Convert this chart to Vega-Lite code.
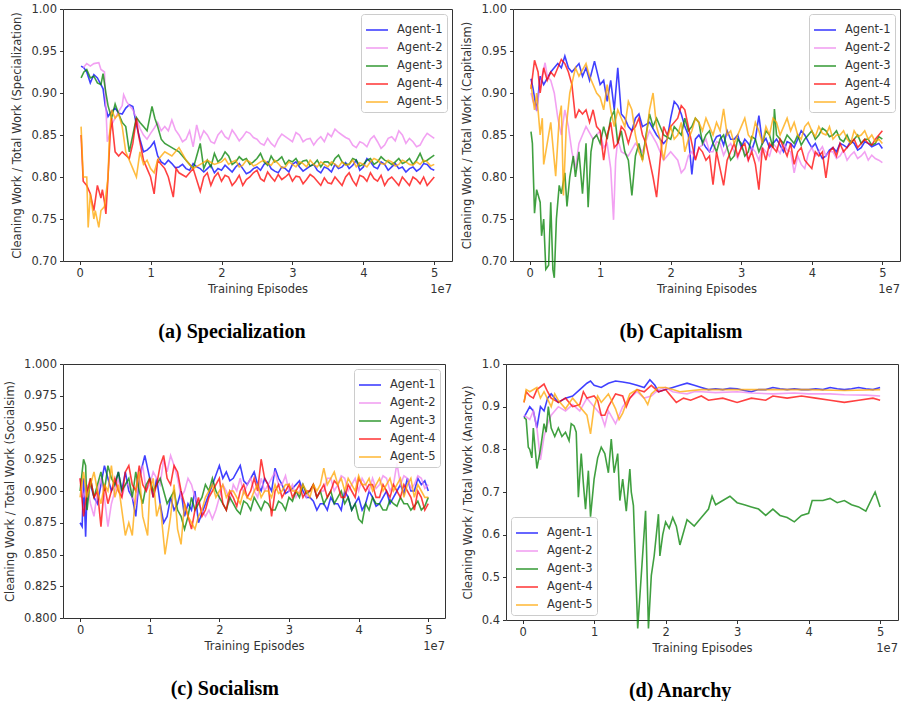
{
"$schema": "https://vega.github.io/schema/vega-lite/v6.json",
"background": "white",
"padding": {"left": 4, "top": 2, "right": 0, "bottom": 0},
"columns": 2,
"align": "none",
"spacing": {"row": 15, "column": 8},
"resolve": {"scale": {"color": "independent", "x": "independent", "y": "independent"}, "legend": {"color": "independent"}, "axis": {"x": "independent", "y": "independent"}},
"datasets": {
"a": [
{"g":1,"x":0.02,"y":0.932},{"g":1,"x":0.06,"y":0.93},{"g":1,"x":0.1,"y":0.925},{"g":1,"x":0.15,"y":0.912},{"g":1,"x":0.2,"y":0.922},{"g":1,"x":0.25,"y":0.918},{"g":1,"x":0.3,"y":0.91},{"g":1,"x":0.33,"y":0.905},{"g":1,"x":0.36,"y":0.885},{"g":1,"x":0.4,"y":0.872},{"g":1,"x":0.45,"y":0.878},{"g":1,"x":0.5,"y":0.882},{"g":1,"x":0.55,"y":0.876},{"g":1,"x":0.6,"y":0.875},{"g":1,"x":0.65,"y":0.882},{"g":1,"x":0.7,"y":0.886},{"g":1,"x":0.75,"y":0.884},{"g":1,"x":0.8,"y":0.862},{"g":1,"x":0.85,"y":0.845},{"g":1,"x":0.9,"y":0.83},{"g":1,"x":0.95,"y":0.832},{"g":1,"x":1.0,"y":0.836},{"g":1,"x":1.05,"y":0.842},{"g":1,"x":1.1,"y":0.825},{"g":1,"x":1.15,"y":0.818},{"g":1,"x":1.2,"y":0.815},{"g":1,"x":1.3,"y":0.816},{"g":1,"x":1.4,"y":0.812},{"g":1,"x":1.5,"y":0.81},{"g":1,"x":1.6,"y":0.816},{"g":1,"x":1.7,"y":0.81},{"g":1,"x":1.8,"y":0.81},{"g":1,"x":1.9,"y":0.805},{"g":1,"x":2.0,"y":0.808},{"g":1,"x":2.1,"y":0.81},{"g":1,"x":2.2,"y":0.812},{"g":1,"x":2.3,"y":0.81},{"g":1,"x":2.4,"y":0.806},{"g":1,"x":2.5,"y":0.812},{"g":1,"x":2.6,"y":0.815},{"g":1,"x":2.7,"y":0.81},{"g":1,"x":2.8,"y":0.805},{"g":1,"x":2.9,"y":0.81},{"g":1,"x":3.0,"y":0.815},{"g":1,"x":3.1,"y":0.812},{"g":1,"x":3.2,"y":0.81},{"g":1,"x":3.3,"y":0.815},{"g":1,"x":3.4,"y":0.805},{"g":1,"x":3.5,"y":0.81},{"g":1,"x":3.6,"y":0.815},{"g":1,"x":3.7,"y":0.812},{"g":1,"x":3.8,"y":0.81},{"g":1,"x":3.9,"y":0.82},{"g":1,"x":4.0,"y":0.812},{"g":1,"x":4.1,"y":0.818},{"g":1,"x":4.2,"y":0.81},{"g":1,"x":4.3,"y":0.815},{"g":1,"x":4.4,"y":0.812},{"g":1,"x":4.5,"y":0.81},{"g":1,"x":4.6,"y":0.806},{"g":1,"x":4.7,"y":0.812},{"g":1,"x":4.8,"y":0.81},{"g":1,"x":4.9,"y":0.815},{"g":1,"x":5.0,"y":0.808},
{"g":1,"x":1.25,"y":0.82},{"g":1,"x":1.35,"y":0.811},{"g":1,"x":1.45,"y":0.815},{"g":1,"x":1.55,"y":0.808},{"g":1,"x":1.65,"y":0.812},{"g":1,"x":1.75,"y":0.806},{"g":1,"x":1.85,"y":0.814},{"g":1,"x":1.95,"y":0.81},{"g":1,"x":2.05,"y":0.814},{"g":1,"x":2.15,"y":0.806},{"g":1,"x":2.25,"y":0.816},{"g":1,"x":2.35,"y":0.804},{"g":1,"x":2.45,"y":0.81},{"g":1,"x":2.55,"y":0.808},{"g":1,"x":2.65,"y":0.818},{"g":1,"x":2.75,"y":0.807},{"g":1,"x":2.85,"y":0.812},{"g":1,"x":2.95,"y":0.806},{"g":1,"x":3.05,"y":0.818},{"g":1,"x":3.15,"y":0.807},{"g":1,"x":3.25,"y":0.813},{"g":1,"x":3.35,"y":0.808},{"g":1,"x":3.45,"y":0.812},{"g":1,"x":3.55,"y":0.806},{"g":1,"x":3.65,"y":0.81},{"g":1,"x":3.75,"y":0.817},{"g":1,"x":3.85,"y":0.814},{"g":1,"x":3.95,"y":0.808},{"g":1,"x":4.05,"y":0.822},{"g":1,"x":4.15,"y":0.812},{"g":1,"x":4.25,"y":0.818},{"g":1,"x":4.35,"y":0.808},{"g":1,"x":4.45,"y":0.816},{"g":1,"x":4.55,"y":0.812},{"g":1,"x":4.65,"y":0.81},{"g":1,"x":4.75,"y":0.807},{"g":1,"x":4.85,"y":0.816},{"g":1,"x":4.95,"y":0.81},
{"g":2,"x":0.05,"y":0.93},{"g":2,"x":0.1,"y":0.935},{"g":2,"x":0.15,"y":0.932},{"g":2,"x":0.2,"y":0.935},{"g":2,"x":0.27,"y":0.936},{"g":2,"x":0.3,"y":0.928},{"g":2,"x":0.35,"y":0.925},{"g":2,"x":0.39,"y":0.842},{"g":2,"x":0.42,"y":0.85},{"g":2,"x":0.45,"y":0.862},{"g":2,"x":0.5,"y":0.87},{"g":2,"x":0.55,"y":0.878},{"g":2,"x":0.6,"y":0.885},{"g":2,"x":0.62,"y":0.898},{"g":2,"x":0.66,"y":0.89},{"g":2,"x":0.7,"y":0.885},{"g":2,"x":0.75,"y":0.88},{"g":2,"x":0.8,"y":0.87},{"g":2,"x":0.85,"y":0.858},{"g":2,"x":0.9,"y":0.85},{"g":2,"x":0.95,"y":0.845},{"g":2,"x":1.0,"y":0.852},{"g":2,"x":1.05,"y":0.858},{"g":2,"x":1.1,"y":0.865},{"g":2,"x":1.15,"y":0.855},{"g":2,"x":1.2,"y":0.86},{"g":2,"x":1.25,"y":0.855},{"g":2,"x":1.3,"y":0.868},{"g":2,"x":1.35,"y":0.856},{"g":2,"x":1.4,"y":0.85},{"g":2,"x":1.45,"y":0.842},{"g":2,"x":1.5,"y":0.845},{"g":2,"x":1.55,"y":0.855},{"g":2,"x":1.6,"y":0.836},{"g":2,"x":1.65,"y":0.862},{"g":2,"x":1.7,"y":0.845},{"g":2,"x":1.8,"y":0.85},{"g":2,"x":1.9,"y":0.84},{"g":2,"x":2.0,"y":0.855},{"g":2,"x":2.1,"y":0.845},{"g":2,"x":2.2,"y":0.85},{"g":2,"x":2.3,"y":0.848},{"g":2,"x":2.4,"y":0.852},{"g":2,"x":2.5,"y":0.845},{"g":2,"x":2.6,"y":0.838},{"g":2,"x":2.7,"y":0.84},{"g":2,"x":2.8,"y":0.845},{"g":2,"x":2.9,"y":0.848},{"g":2,"x":3.0,"y":0.842},{"g":2,"x":3.1,"y":0.85},{"g":2,"x":3.2,"y":0.845},{"g":2,"x":3.3,"y":0.838},{"g":2,"x":3.4,"y":0.848},{"g":2,"x":3.5,"y":0.852},{"g":2,"x":3.6,"y":0.857},{"g":2,"x":3.7,"y":0.85},{"g":2,"x":3.8,"y":0.845},{"g":2,"x":3.9,"y":0.835},{"g":2,"x":4.0,"y":0.84},{"g":2,"x":4.1,"y":0.845},{"g":2,"x":4.2,"y":0.842},{"g":2,"x":4.3,"y":0.838},{"g":2,"x":4.4,"y":0.848},{"g":2,"x":4.5,"y":0.855},{"g":2,"x":4.6,"y":0.84},{"g":2,"x":4.7,"y":0.842},{"g":2,"x":4.8,"y":0.838},{"g":2,"x":4.9,"y":0.852},{"g":2,"x":5.0,"y":0.846},
{"g":2,"x":1.75,"y":0.855},{"g":2,"x":1.85,"y":0.842},{"g":2,"x":1.95,"y":0.85},{"g":2,"x":2.05,"y":0.848},{"g":2,"x":2.15,"y":0.856},{"g":2,"x":2.25,"y":0.843},{"g":2,"x":2.35,"y":0.854},{"g":2,"x":2.45,"y":0.847},{"g":2,"x":2.55,"y":0.84},{"g":2,"x":2.65,"y":0.846},{"g":2,"x":2.75,"y":0.836},{"g":2,"x":2.85,"y":0.851},{"g":2,"x":2.95,"y":0.845},{"g":2,"x":3.05,"y":0.853},{"g":2,"x":3.15,"y":0.842},{"g":2,"x":3.25,"y":0.846},{"g":2,"x":3.35,"y":0.844},{"g":2,"x":3.45,"y":0.842},{"g":2,"x":3.55,"y":0.848},{"g":2,"x":3.65,"y":0.853},{"g":2,"x":3.75,"y":0.847},{"g":2,"x":3.85,"y":0.838},{"g":2,"x":3.95,"y":0.842},{"g":2,"x":4.05,"y":0.836},{"g":2,"x":4.15,"y":0.849},{"g":2,"x":4.25,"y":0.834},{"g":2,"x":4.35,"y":0.846},{"g":2,"x":4.45,"y":0.843},{"g":2,"x":4.55,"y":0.85},{"g":2,"x":4.65,"y":0.846},{"g":2,"x":4.75,"y":0.836},{"g":2,"x":4.85,"y":0.846},{"g":2,"x":4.95,"y":0.849},
{"g":3,"x":0.02,"y":0.918},{"g":3,"x":0.06,"y":0.925},{"g":3,"x":0.1,"y":0.928},{"g":3,"x":0.15,"y":0.918},{"g":3,"x":0.2,"y":0.92},{"g":3,"x":0.25,"y":0.912},{"g":3,"x":0.3,"y":0.91},{"g":3,"x":0.33,"y":0.923},{"g":3,"x":0.37,"y":0.9},{"g":3,"x":0.4,"y":0.885},{"g":3,"x":0.45,"y":0.87},{"g":3,"x":0.5,"y":0.887},{"g":3,"x":0.55,"y":0.875},{"g":3,"x":0.6,"y":0.865},{"g":3,"x":0.65,"y":0.86},{"g":3,"x":0.7,"y":0.83},{"g":3,"x":0.75,"y":0.85},{"g":3,"x":0.8,"y":0.871},{"g":3,"x":0.85,"y":0.865},{"g":3,"x":0.9,"y":0.86},{"g":3,"x":0.95,"y":0.855},{"g":3,"x":1.02,"y":0.884},{"g":3,"x":1.06,"y":0.87},{"g":3,"x":1.1,"y":0.86},{"g":3,"x":1.15,"y":0.845},{"g":3,"x":1.2,"y":0.84},{"g":3,"x":1.3,"y":0.835},{"g":3,"x":1.4,"y":0.83},{"g":3,"x":1.5,"y":0.82},{"g":3,"x":1.6,"y":0.81},{"g":3,"x":1.65,"y":0.825},{"g":3,"x":1.7,"y":0.84},{"g":3,"x":1.75,"y":0.81},{"g":3,"x":1.8,"y":0.82},{"g":3,"x":1.9,"y":0.828},{"g":3,"x":2.0,"y":0.822},{"g":3,"x":2.1,"y":0.825},{"g":3,"x":2.2,"y":0.818},{"g":3,"x":2.3,"y":0.82},{"g":3,"x":2.4,"y":0.815},{"g":3,"x":2.5,"y":0.822},{"g":3,"x":2.6,"y":0.818},{"g":3,"x":2.7,"y":0.825},{"g":3,"x":2.8,"y":0.82},{"g":3,"x":2.9,"y":0.815},{"g":3,"x":3.0,"y":0.818},{"g":3,"x":3.1,"y":0.815},{"g":3,"x":3.2,"y":0.82},{"g":3,"x":3.3,"y":0.815},{"g":3,"x":3.4,"y":0.812},{"g":3,"x":3.5,"y":0.818},{"g":3,"x":3.6,"y":0.822},{"g":3,"x":3.7,"y":0.818},{"g":3,"x":3.8,"y":0.815},{"g":3,"x":3.9,"y":0.82},{"g":3,"x":4.0,"y":0.815},{"g":3,"x":4.1,"y":0.822},{"g":3,"x":4.2,"y":0.818},{"g":3,"x":4.3,"y":0.82},{"g":3,"x":4.4,"y":0.815},{"g":3,"x":4.5,"y":0.822},{"g":3,"x":4.6,"y":0.818},{"g":3,"x":4.7,"y":0.815},{"g":3,"x":4.8,"y":0.828},{"g":3,"x":4.9,"y":0.82},{"g":3,"x":5.0,"y":0.826},
{"g":3,"x":1.85,"y":0.812},{"g":3,"x":1.95,"y":0.818},{"g":3,"x":2.05,"y":0.83},{"g":3,"x":2.15,"y":0.815},{"g":3,"x":2.25,"y":0.824},{"g":3,"x":2.35,"y":0.822},{"g":3,"x":2.45,"y":0.818},{"g":3,"x":2.55,"y":0.828},{"g":3,"x":2.65,"y":0.814},{"g":3,"x":2.75,"y":0.818},{"g":3,"x":2.85,"y":0.824},{"g":3,"x":2.95,"y":0.82},{"g":3,"x":3.05,"y":0.822},{"g":3,"x":3.15,"y":0.819},{"g":3,"x":3.25,"y":0.813},{"g":3,"x":3.35,"y":0.82},{"g":3,"x":3.45,"y":0.818},{"g":3,"x":3.55,"y":0.814},{"g":3,"x":3.65,"y":0.826},{"g":3,"x":3.75,"y":0.815},{"g":3,"x":3.85,"y":0.822},{"g":3,"x":3.95,"y":0.813},{"g":3,"x":4.05,"y":0.82},{"g":3,"x":4.15,"y":0.815},{"g":3,"x":4.25,"y":0.824},{"g":3,"x":4.35,"y":0.818},{"g":3,"x":4.45,"y":0.818},{"g":3,"x":4.55,"y":0.816},{"g":3,"x":4.65,"y":0.822},{"g":3,"x":4.75,"y":0.82},{"g":3,"x":4.85,"y":0.818},{"g":3,"x":4.95,"y":0.823},
{"g":4,"x":0.02,"y":0.85},{"g":4,"x":0.05,"y":0.795},{"g":4,"x":0.1,"y":0.79},{"g":4,"x":0.15,"y":0.78},{"g":4,"x":0.2,"y":0.76},{"g":4,"x":0.25,"y":0.79},{"g":4,"x":0.3,"y":0.775},{"g":4,"x":0.32,"y":0.785},{"g":4,"x":0.35,"y":0.77},{"g":4,"x":0.37,"y":0.756},{"g":4,"x":0.4,"y":0.8},{"g":4,"x":0.43,"y":0.85},{"g":4,"x":0.45,"y":0.87},{"g":4,"x":0.5,"y":0.83},{"g":4,"x":0.55,"y":0.825},{"g":4,"x":0.6,"y":0.83},{"g":4,"x":0.7,"y":0.822},{"g":4,"x":0.75,"y":0.84},{"g":4,"x":0.8,"y":0.87},{"g":4,"x":0.83,"y":0.85},{"g":4,"x":0.9,"y":0.82},{"g":4,"x":0.95,"y":0.81},{"g":4,"x":1.0,"y":0.8},{"g":4,"x":1.05,"y":0.78},{"g":4,"x":1.1,"y":0.82},{"g":4,"x":1.2,"y":0.81},{"g":4,"x":1.25,"y":0.8},{"g":4,"x":1.32,"y":0.776},{"g":4,"x":1.36,"y":0.81},{"g":4,"x":1.4,"y":0.805},{"g":4,"x":1.5,"y":0.8},{"g":4,"x":1.6,"y":0.81},{"g":4,"x":1.7,"y":0.783},{"g":4,"x":1.75,"y":0.8},{"g":4,"x":1.8,"y":0.805},{"g":4,"x":1.9,"y":0.8},{"g":4,"x":2.0,"y":0.795},{"g":4,"x":2.1,"y":0.8},{"g":4,"x":2.2,"y":0.795},{"g":4,"x":2.3,"y":0.79},{"g":4,"x":2.4,"y":0.8},{"g":4,"x":2.5,"y":0.808},{"g":4,"x":2.6,"y":0.795},{"g":4,"x":2.7,"y":0.8},{"g":4,"x":2.8,"y":0.803},{"g":4,"x":2.9,"y":0.8},{"g":4,"x":3.0,"y":0.795},{"g":4,"x":3.1,"y":0.8},{"g":4,"x":3.2,"y":0.797},{"g":4,"x":3.3,"y":0.8},{"g":4,"x":3.4,"y":0.79},{"g":4,"x":3.5,"y":0.793},{"g":4,"x":3.6,"y":0.8},{"g":4,"x":3.7,"y":0.79},{"g":4,"x":3.8,"y":0.805},{"g":4,"x":3.9,"y":0.79},{"g":4,"x":4.0,"y":0.8},{"g":4,"x":4.1,"y":0.805},{"g":4,"x":4.2,"y":0.795},{"g":4,"x":4.3,"y":0.79},{"g":4,"x":4.4,"y":0.8},{"g":4,"x":4.5,"y":0.79},{"g":4,"x":4.6,"y":0.795},{"g":4,"x":4.7,"y":0.8},{"g":4,"x":4.8,"y":0.792},{"g":4,"x":4.9,"y":0.79},{"g":4,"x":5.0,"y":0.8},
{"g":4,"x":1.85,"y":0.79},{"g":4,"x":1.95,"y":0.805},{"g":4,"x":2.05,"y":0.802},{"g":4,"x":2.15,"y":0.79},{"g":4,"x":2.25,"y":0.802},{"g":4,"x":2.35,"y":0.797},{"g":4,"x":2.45,"y":0.805},{"g":4,"x":2.55,"y":0.798},{"g":4,"x":2.65,"y":0.806},{"g":4,"x":2.75,"y":0.795},{"g":4,"x":2.85,"y":0.797},{"g":4,"x":2.95,"y":0.804},{"g":4,"x":3.05,"y":0.801},{"g":4,"x":3.15,"y":0.792},{"g":4,"x":3.25,"y":0.803},{"g":4,"x":3.35,"y":0.795},{"g":4,"x":3.45,"y":0.799},{"g":4,"x":3.55,"y":0.792},{"g":4,"x":3.65,"y":0.795},{"g":4,"x":3.75,"y":0.8},{"g":4,"x":3.85,"y":0.796},{"g":4,"x":3.95,"y":0.802},{"g":4,"x":4.05,"y":0.795},{"g":4,"x":4.15,"y":0.798},{"g":4,"x":4.25,"y":0.802},{"g":4,"x":4.35,"y":0.797},{"g":4,"x":4.45,"y":0.795},{"g":4,"x":4.55,"y":0.8},{"g":4,"x":4.65,"y":0.79},{"g":4,"x":4.75,"y":0.797},{"g":4,"x":4.85,"y":0.8},{"g":4,"x":4.95,"y":0.795},
{"g":5,"x":0.02,"y":0.86},{"g":5,"x":0.05,"y":0.8},{"g":5,"x":0.1,"y":0.8},{"g":5,"x":0.12,"y":0.74},{"g":5,"x":0.15,"y":0.78},{"g":5,"x":0.2,"y":0.75},{"g":5,"x":0.22,"y":0.76},{"g":5,"x":0.27,"y":0.74},{"g":5,"x":0.3,"y":0.76},{"g":5,"x":0.35,"y":0.765},{"g":5,"x":0.4,"y":0.8},{"g":5,"x":0.42,"y":0.85},{"g":5,"x":0.45,"y":0.88},{"g":5,"x":0.5,"y":0.87},{"g":5,"x":0.55,"y":0.875},{"g":5,"x":0.6,"y":0.86},{"g":5,"x":0.65,"y":0.83},{"g":5,"x":0.7,"y":0.82},{"g":5,"x":0.75,"y":0.81},{"g":5,"x":0.8,"y":0.8},{"g":5,"x":0.85,"y":0.83},{"g":5,"x":0.9,"y":0.815},{"g":5,"x":0.95,"y":0.82},{"g":5,"x":1.0,"y":0.81},{"g":5,"x":1.05,"y":0.805},{"g":5,"x":1.1,"y":0.82},{"g":5,"x":1.2,"y":0.83},{"g":5,"x":1.3,"y":0.825},{"g":5,"x":1.4,"y":0.835},{"g":5,"x":1.5,"y":0.82},{"g":5,"x":1.6,"y":0.81},{"g":5,"x":1.7,"y":0.815},{"g":5,"x":1.8,"y":0.82},{"g":5,"x":1.9,"y":0.815},{"g":5,"x":2.0,"y":0.818},{"g":5,"x":2.1,"y":0.815},{"g":5,"x":2.2,"y":0.82},{"g":5,"x":2.3,"y":0.814},{"g":5,"x":2.4,"y":0.818},{"g":5,"x":2.5,"y":0.815},{"g":5,"x":2.6,"y":0.82},{"g":5,"x":2.7,"y":0.814},{"g":5,"x":2.8,"y":0.816},{"g":5,"x":2.9,"y":0.812},{"g":5,"x":3.0,"y":0.815},{"g":5,"x":3.1,"y":0.818},{"g":5,"x":3.2,"y":0.812},{"g":5,"x":3.3,"y":0.815},{"g":5,"x":3.4,"y":0.818},{"g":5,"x":3.5,"y":0.812},{"g":5,"x":3.6,"y":0.815},{"g":5,"x":3.7,"y":0.818},{"g":5,"x":3.8,"y":0.815},{"g":5,"x":3.9,"y":0.812},{"g":5,"x":4.0,"y":0.815},{"g":5,"x":4.1,"y":0.818},{"g":5,"x":4.2,"y":0.82},{"g":5,"x":4.3,"y":0.815},{"g":5,"x":4.4,"y":0.818},{"g":5,"x":4.5,"y":0.815},{"g":5,"x":4.6,"y":0.818},{"g":5,"x":4.7,"y":0.814},{"g":5,"x":4.8,"y":0.815},{"g":5,"x":4.9,"y":0.818},{"g":5,"x":5.0,"y":0.815},
{"g":5,"x":2.05,"y":0.822},{"g":5,"x":2.15,"y":0.818},{"g":5,"x":2.25,"y":0.812},{"g":5,"x":2.35,"y":0.82},{"g":5,"x":2.45,"y":0.813},{"g":5,"x":2.55,"y":0.818},{"g":5,"x":2.65,"y":0.816},{"g":5,"x":2.75,"y":0.82},{"g":5,"x":2.85,"y":0.811},{"g":5,"x":2.95,"y":0.818},{"g":5,"x":3.05,"y":0.812},{"g":5,"x":3.15,"y":0.816},{"g":5,"x":3.25,"y":0.82},{"g":5,"x":3.35,"y":0.812},{"g":5,"x":3.45,"y":0.815},{"g":5,"x":3.55,"y":0.818},{"g":5,"x":3.65,"y":0.812},{"g":5,"x":3.75,"y":0.814},{"g":5,"x":3.85,"y":0.82},{"g":5,"x":3.95,"y":0.817},{"g":5,"x":4.05,"y":0.812},{"g":5,"x":4.15,"y":0.822},{"g":5,"x":4.25,"y":0.816},{"g":5,"x":4.35,"y":0.82},{"g":5,"x":4.45,"y":0.813},{"g":5,"x":4.55,"y":0.82},{"g":5,"x":4.65,"y":0.815},{"g":5,"x":4.75,"y":0.818},{"g":5,"x":4.85,"y":0.82},{"g":5,"x":4.95,"y":0.813}
],
"b": [
{"g":1,"x":0.02,"y":0.917},{"g":1,"x":0.05,"y":0.905},{"g":1,"x":0.1,"y":0.879},{"g":1,"x":0.15,"y":0.92},{"g":1,"x":0.2,"y":0.91},{"g":1,"x":0.3,"y":0.925},{"g":1,"x":0.4,"y":0.935},{"g":1,"x":0.45,"y":0.93},{"g":1,"x":0.5,"y":0.944},{"g":1,"x":0.55,"y":0.93},{"g":1,"x":0.6,"y":0.925},{"g":1,"x":0.7,"y":0.935},{"g":1,"x":0.75,"y":0.92},{"g":1,"x":0.8,"y":0.93},{"g":1,"x":0.85,"y":0.915},{"g":1,"x":0.92,"y":0.938},{"g":1,"x":1.0,"y":0.91},{"g":1,"x":1.05,"y":0.915},{"g":1,"x":1.1,"y":0.89},{"g":1,"x":1.15,"y":0.915},{"g":1,"x":1.2,"y":0.88},{"g":1,"x":1.25,"y":0.93},{"g":1,"x":1.3,"y":0.875},{"g":1,"x":1.35,"y":0.87},{"g":1,"x":1.4,"y":0.86},{"g":1,"x":1.45,"y":0.855},{"g":1,"x":1.5,"y":0.87},{"g":1,"x":1.55,"y":0.875},{"g":1,"x":1.6,"y":0.86},{"g":1,"x":1.7,"y":0.865},{"g":1,"x":1.8,"y":0.85},{"g":1,"x":1.9,"y":0.84},{"g":1,"x":1.95,"y":0.845},{"g":1,"x":2.0,"y":0.87},{"g":1,"x":2.05,"y":0.89},{"g":1,"x":2.1,"y":0.885},{"g":1,"x":2.15,"y":0.875},{"g":1,"x":2.2,"y":0.86},{"g":1,"x":2.25,"y":0.85},{"g":1,"x":2.3,"y":0.803},{"g":1,"x":2.35,"y":0.845},{"g":1,"x":2.4,"y":0.85},{"g":1,"x":2.5,"y":0.835},{"g":1,"x":2.6,"y":0.84},{"g":1,"x":2.7,"y":0.85},{"g":1,"x":2.8,"y":0.855},{"g":1,"x":2.9,"y":0.845},{"g":1,"x":3.0,"y":0.835},{"g":1,"x":3.1,"y":0.84},{"g":1,"x":3.2,"y":0.845},{"g":1,"x":3.25,"y":0.873},{"g":1,"x":3.3,"y":0.84},{"g":1,"x":3.4,"y":0.835},{"g":1,"x":3.5,"y":0.845},{"g":1,"x":3.6,"y":0.83},{"g":1,"x":3.7,"y":0.84},{"g":1,"x":3.8,"y":0.845},{"g":1,"x":3.9,"y":0.85},{"g":1,"x":4.0,"y":0.835},{"g":1,"x":4.1,"y":0.83},{"g":1,"x":4.2,"y":0.825},{"g":1,"x":4.3,"y":0.835},{"g":1,"x":4.4,"y":0.84},{"g":1,"x":4.5,"y":0.835},{"g":1,"x":4.6,"y":0.84},{"g":1,"x":4.7,"y":0.835},{"g":1,"x":4.8,"y":0.84},{"g":1,"x":4.9,"y":0.838},{"g":1,"x":5.0,"y":0.834},
{"g":1,"x":2.45,"y":0.842},{"g":1,"x":2.55,"y":0.83},{"g":1,"x":2.65,"y":0.848},{"g":1,"x":2.75,"y":0.838},{"g":1,"x":2.85,"y":0.845},{"g":1,"x":2.95,"y":0.85},{"g":1,"x":3.05,"y":0.845},{"g":1,"x":3.15,"y":0.832},{"g":1,"x":3.35,"y":0.846},{"g":1,"x":3.45,"y":0.84},{"g":1,"x":3.55,"y":0.838},{"g":1,"x":3.65,"y":0.842},{"g":1,"x":3.75,"y":0.835},{"g":1,"x":3.85,"y":0.855},{"g":1,"x":3.95,"y":0.842},{"g":1,"x":4.05,"y":0.84},{"g":1,"x":4.15,"y":0.822},{"g":1,"x":4.25,"y":0.832},{"g":1,"x":4.35,"y":0.83},{"g":1,"x":4.45,"y":0.838},{"g":1,"x":4.55,"y":0.843},{"g":1,"x":4.65,"y":0.832},{"g":1,"x":4.75,"y":0.842},{"g":1,"x":4.85,"y":0.836},{"g":1,"x":4.95,"y":0.84},
{"g":2,"x":0.02,"y":0.9},{"g":2,"x":0.05,"y":0.89},{"g":2,"x":0.1,"y":0.88},{"g":2,"x":0.15,"y":0.91},{"g":2,"x":0.22,"y":0.936},{"g":2,"x":0.25,"y":0.92},{"g":2,"x":0.3,"y":0.915},{"g":2,"x":0.35,"y":0.9},{"g":2,"x":0.4,"y":0.87},{"g":2,"x":0.45,"y":0.85},{"g":2,"x":0.5,"y":0.88},{"g":2,"x":0.55,"y":0.86},{"g":2,"x":0.6,"y":0.83},{"g":2,"x":0.65,"y":0.81},{"g":2,"x":0.7,"y":0.84},{"g":2,"x":0.75,"y":0.85},{"g":2,"x":0.8,"y":0.86},{"g":2,"x":0.9,"y":0.845},{"g":2,"x":1.0,"y":0.855},{"g":2,"x":1.05,"y":0.835},{"g":2,"x":1.1,"y":0.84},{"g":2,"x":1.15,"y":0.81},{"g":2,"x":1.19,"y":0.749},{"g":2,"x":1.22,"y":0.82},{"g":2,"x":1.25,"y":0.845},{"g":2,"x":1.3,"y":0.83},{"g":2,"x":1.4,"y":0.825},{"g":2,"x":1.5,"y":0.84},{"g":2,"x":1.6,"y":0.83},{"g":2,"x":1.7,"y":0.855},{"g":2,"x":1.8,"y":0.84},{"g":2,"x":1.9,"y":0.82},{"g":2,"x":2.0,"y":0.83},{"g":2,"x":2.1,"y":0.82},{"g":2,"x":2.15,"y":0.805},{"g":2,"x":2.2,"y":0.81},{"g":2,"x":2.3,"y":0.83},{"g":2,"x":2.4,"y":0.835},{"g":2,"x":2.5,"y":0.845},{"g":2,"x":2.6,"y":0.83},{"g":2,"x":2.7,"y":0.84},{"g":2,"x":2.8,"y":0.835},{"g":2,"x":2.9,"y":0.83},{"g":2,"x":3.0,"y":0.835},{"g":2,"x":3.1,"y":0.82},{"g":2,"x":3.2,"y":0.83},{"g":2,"x":3.3,"y":0.835},{"g":2,"x":3.4,"y":0.825},{"g":2,"x":3.5,"y":0.835},{"g":2,"x":3.6,"y":0.84},{"g":2,"x":3.7,"y":0.83},{"g":2,"x":3.75,"y":0.805},{"g":2,"x":3.8,"y":0.825},{"g":2,"x":3.9,"y":0.81},{"g":2,"x":4.0,"y":0.835},{"g":2,"x":4.1,"y":0.83},{"g":2,"x":4.2,"y":0.825},{"g":2,"x":4.3,"y":0.83},{"g":2,"x":4.4,"y":0.825},{"g":2,"x":4.5,"y":0.82},{"g":2,"x":4.6,"y":0.83},{"g":2,"x":4.7,"y":0.825},{"g":2,"x":4.8,"y":0.82},{"g":2,"x":4.9,"y":0.822},{"g":2,"x":5.0,"y":0.817},
{"g":2,"x":2.25,"y":0.825},{"g":2,"x":2.35,"y":0.822},{"g":2,"x":2.45,"y":0.838},{"g":2,"x":2.55,"y":0.83},{"g":2,"x":2.65,"y":0.842},{"g":2,"x":2.75,"y":0.826},{"g":2,"x":2.85,"y":0.84},{"g":2,"x":2.95,"y":0.822},{"g":2,"x":3.05,"y":0.83},{"g":2,"x":3.15,"y":0.835},{"g":2,"x":3.25,"y":0.82},{"g":2,"x":3.35,"y":0.83},{"g":2,"x":3.45,"y":0.84},{"g":2,"x":3.55,"y":0.828},{"g":2,"x":3.65,"y":0.832},{"g":2,"x":3.85,"y":0.815},{"g":2,"x":3.95,"y":0.828},{"g":2,"x":4.05,"y":0.825},{"g":2,"x":4.15,"y":0.836},{"g":2,"x":4.25,"y":0.83},{"g":2,"x":4.35,"y":0.822},{"g":2,"x":4.45,"y":0.832},{"g":2,"x":4.55,"y":0.826},{"g":2,"x":4.65,"y":0.822},{"g":2,"x":4.75,"y":0.83},{"g":2,"x":4.85,"y":0.826},{"g":2,"x":4.95,"y":0.82},
{"g":3,"x":0.02,"y":0.854},{"g":3,"x":0.04,"y":0.84},{"g":3,"x":0.07,"y":0.757},{"g":3,"x":0.1,"y":0.785},{"g":3,"x":0.15,"y":0.77},{"g":3,"x":0.17,"y":0.73},{"g":3,"x":0.2,"y":0.75},{"g":3,"x":0.23,"y":0.69},{"g":3,"x":0.27,"y":0.695},{"g":3,"x":0.3,"y":0.77},{"g":3,"x":0.33,"y":0.69},{"g":3,"x":0.35,"y":0.68},{"g":3,"x":0.38,"y":0.75},{"g":3,"x":0.42,"y":0.79},{"g":3,"x":0.45,"y":0.78},{"g":3,"x":0.5,"y":0.805},{"g":3,"x":0.53,"y":0.765},{"g":3,"x":0.57,"y":0.8},{"g":3,"x":0.6,"y":0.815},{"g":3,"x":0.62,"y":0.825},{"g":3,"x":0.65,"y":0.8},{"g":3,"x":0.7,"y":0.83},{"g":3,"x":0.75,"y":0.78},{"g":3,"x":0.8,"y":0.84},{"g":3,"x":0.83,"y":0.764},{"g":3,"x":0.87,"y":0.83},{"g":3,"x":0.9,"y":0.845},{"g":3,"x":0.95,"y":0.85},{"g":3,"x":1.0,"y":0.84},{"g":3,"x":1.05,"y":0.86},{"g":3,"x":1.1,"y":0.845},{"g":3,"x":1.15,"y":0.87},{"g":3,"x":1.2,"y":0.879},{"g":3,"x":1.25,"y":0.84},{"g":3,"x":1.3,"y":0.855},{"g":3,"x":1.35,"y":0.83},{"g":3,"x":1.4,"y":0.82},{"g":3,"x":1.45,"y":0.778},{"g":3,"x":1.5,"y":0.825},{"g":3,"x":1.55,"y":0.84},{"g":3,"x":1.6,"y":0.82},{"g":3,"x":1.65,"y":0.85},{"g":3,"x":1.7,"y":0.875},{"g":3,"x":1.75,"y":0.86},{"g":3,"x":1.8,"y":0.87},{"g":3,"x":1.9,"y":0.85},{"g":3,"x":2.0,"y":0.845},{"g":3,"x":2.1,"y":0.855},{"g":3,"x":2.2,"y":0.87},{"g":3,"x":2.3,"y":0.86},{"g":3,"x":2.4,"y":0.865},{"g":3,"x":2.5,"y":0.85},{"g":3,"x":2.6,"y":0.84},{"g":3,"x":2.7,"y":0.845},{"g":3,"x":2.8,"y":0.835},{"g":3,"x":2.9,"y":0.825},{"g":3,"x":3.0,"y":0.84},{"g":3,"x":3.1,"y":0.83},{"g":3,"x":3.2,"y":0.845},{"g":3,"x":3.3,"y":0.84},{"g":3,"x":3.4,"y":0.85},{"g":3,"x":3.47,"y":0.881},{"g":3,"x":3.5,"y":0.85},{"g":3,"x":3.6,"y":0.84},{"g":3,"x":3.7,"y":0.845},{"g":3,"x":3.8,"y":0.85},{"g":3,"x":3.9,"y":0.845},{"g":3,"x":4.0,"y":0.855},{"g":3,"x":4.1,"y":0.85},{"g":3,"x":4.2,"y":0.855},{"g":3,"x":4.3,"y":0.85},{"g":3,"x":4.4,"y":0.845},{"g":3,"x":4.5,"y":0.85},{"g":3,"x":4.6,"y":0.845},{"g":3,"x":4.7,"y":0.84},{"g":3,"x":4.8,"y":0.845},{"g":3,"x":4.9,"y":0.84},{"g":3,"x":5.0,"y":0.845},
{"g":3,"x":2.05,"y":0.86},{"g":3,"x":2.15,"y":0.85},{"g":3,"x":2.25,"y":0.855},{"g":3,"x":2.35,"y":0.87},{"g":3,"x":2.45,"y":0.84},{"g":3,"x":2.55,"y":0.855},{"g":3,"x":2.65,"y":0.83},{"g":3,"x":2.75,"y":0.85},{"g":3,"x":2.85,"y":0.82},{"g":3,"x":2.95,"y":0.845},{"g":3,"x":3.05,"y":0.825},{"g":3,"x":3.15,"y":0.848},{"g":3,"x":3.25,"y":0.83},{"g":3,"x":3.35,"y":0.855},{"g":3,"x":3.45,"y":0.835},{"g":3,"x":3.55,"y":0.845},{"g":3,"x":3.65,"y":0.85},{"g":3,"x":3.75,"y":0.84},{"g":3,"x":3.85,"y":0.838},{"g":3,"x":3.95,"y":0.85},{"g":3,"x":4.05,"y":0.845},{"g":3,"x":4.15,"y":0.858},{"g":3,"x":4.25,"y":0.848},{"g":3,"x":4.35,"y":0.855},{"g":3,"x":4.45,"y":0.842},{"g":3,"x":4.55,"y":0.84},{"g":3,"x":4.65,"y":0.85},{"g":3,"x":4.75,"y":0.845},{"g":3,"x":4.85,"y":0.838},{"g":3,"x":4.95,"y":0.848},
{"g":4,"x":0.02,"y":0.905},{"g":4,"x":0.07,"y":0.939},{"g":4,"x":0.12,"y":0.925},{"g":4,"x":0.15,"y":0.9},{"g":4,"x":0.2,"y":0.93},{"g":4,"x":0.25,"y":0.915},{"g":4,"x":0.3,"y":0.925},{"g":4,"x":0.35,"y":0.92},{"g":4,"x":0.4,"y":0.93},{"g":4,"x":0.45,"y":0.94},{"g":4,"x":0.5,"y":0.935},{"g":4,"x":0.55,"y":0.925},{"g":4,"x":0.6,"y":0.91},{"g":4,"x":0.65,"y":0.87},{"g":4,"x":0.7,"y":0.88},{"g":4,"x":0.75,"y":0.875},{"g":4,"x":0.8,"y":0.88},{"g":4,"x":0.85,"y":0.865},{"g":4,"x":0.9,"y":0.88},{"g":4,"x":0.95,"y":0.86},{"g":4,"x":1.0,"y":0.855},{"g":4,"x":1.05,"y":0.82},{"g":4,"x":1.1,"y":0.85},{"g":4,"x":1.15,"y":0.865},{"g":4,"x":1.2,"y":0.835},{"g":4,"x":1.25,"y":0.84},{"g":4,"x":1.3,"y":0.86},{"g":4,"x":1.35,"y":0.855},{"g":4,"x":1.4,"y":0.84},{"g":4,"x":1.45,"y":0.855},{"g":4,"x":1.5,"y":0.86},{"g":4,"x":1.55,"y":0.87},{"g":4,"x":1.6,"y":0.85},{"g":4,"x":1.65,"y":0.84},{"g":4,"x":1.7,"y":0.82},{"g":4,"x":1.75,"y":0.8},{"g":4,"x":1.8,"y":0.776},{"g":4,"x":1.85,"y":0.82},{"g":4,"x":1.9,"y":0.86},{"g":4,"x":1.95,"y":0.85},{"g":4,"x":2.0,"y":0.86},{"g":4,"x":2.1,"y":0.87},{"g":4,"x":2.15,"y":0.885},{"g":4,"x":2.2,"y":0.88},{"g":4,"x":2.3,"y":0.84},{"g":4,"x":2.4,"y":0.835},{"g":4,"x":2.5,"y":0.82},{"g":4,"x":2.55,"y":0.825},{"g":4,"x":2.6,"y":0.791},{"g":4,"x":2.65,"y":0.83},{"g":4,"x":2.7,"y":0.81},{"g":4,"x":2.75,"y":0.79},{"g":4,"x":2.8,"y":0.82},{"g":4,"x":2.9,"y":0.84},{"g":4,"x":3.0,"y":0.835},{"g":4,"x":3.1,"y":0.82},{"g":4,"x":3.15,"y":0.83},{"g":4,"x":3.25,"y":0.785},{"g":4,"x":3.3,"y":0.835},{"g":4,"x":3.4,"y":0.84},{"g":4,"x":3.5,"y":0.83},{"g":4,"x":3.6,"y":0.835},{"g":4,"x":3.7,"y":0.84},{"g":4,"x":3.75,"y":0.815},{"g":4,"x":3.8,"y":0.83},{"g":4,"x":3.9,"y":0.82},{"g":4,"x":4.0,"y":0.81},{"g":4,"x":4.1,"y":0.825},{"g":4,"x":4.15,"y":0.83},{"g":4,"x":4.2,"y":0.799},{"g":4,"x":4.25,"y":0.83},{"g":4,"x":4.3,"y":0.835},{"g":4,"x":4.4,"y":0.84},{"g":4,"x":4.5,"y":0.835},{"g":4,"x":4.6,"y":0.845},{"g":4,"x":4.7,"y":0.84},{"g":4,"x":4.8,"y":0.84},{"g":4,"x":4.9,"y":0.845},{"g":4,"x":5.0,"y":0.855},
{"g":4,"x":2.25,"y":0.86},{"g":4,"x":2.35,"y":0.82},{"g":4,"x":2.45,"y":0.83},{"g":4,"x":2.85,"y":0.83},{"g":4,"x":2.95,"y":0.825},{"g":4,"x":3.05,"y":0.84},{"g":4,"x":3.2,"y":0.815},{"g":4,"x":3.35,"y":0.82},{"g":4,"x":3.45,"y":0.835},{"g":4,"x":3.55,"y":0.845},{"g":4,"x":3.65,"y":0.825},{"g":4,"x":3.85,"y":0.835},{"g":4,"x":3.95,"y":0.815},{"g":4,"x":4.05,"y":0.83},{"g":4,"x":4.35,"y":0.825},{"g":4,"x":4.45,"y":0.83},{"g":4,"x":4.55,"y":0.84},{"g":4,"x":4.65,"y":0.835},{"g":4,"x":4.75,"y":0.845},{"g":4,"x":4.85,"y":0.838},{"g":4,"x":4.95,"y":0.85},
{"g":5,"x":0.02,"y":0.91},{"g":5,"x":0.07,"y":0.88},{"g":5,"x":0.1,"y":0.9},{"g":5,"x":0.15,"y":0.85},{"g":5,"x":0.18,"y":0.87},{"g":5,"x":0.2,"y":0.815},{"g":5,"x":0.25,"y":0.84},{"g":5,"x":0.3,"y":0.865},{"g":5,"x":0.37,"y":0.801},{"g":5,"x":0.42,"y":0.87},{"g":5,"x":0.45,"y":0.885},{"g":5,"x":0.48,"y":0.778},{"g":5,"x":0.52,"y":0.86},{"g":5,"x":0.57,"y":0.9},{"g":5,"x":0.65,"y":0.93},{"g":5,"x":0.7,"y":0.92},{"g":5,"x":0.8,"y":0.935},{"g":5,"x":0.85,"y":0.92},{"g":5,"x":0.9,"y":0.91},{"g":5,"x":0.95,"y":0.9},{"g":5,"x":1.0,"y":0.895},{"g":5,"x":1.05,"y":0.88},{"g":5,"x":1.1,"y":0.91},{"g":5,"x":1.15,"y":0.88},{"g":5,"x":1.2,"y":0.86},{"g":5,"x":1.25,"y":0.88},{"g":5,"x":1.3,"y":0.87},{"g":5,"x":1.35,"y":0.86},{"g":5,"x":1.4,"y":0.89},{"g":5,"x":1.45,"y":0.88},{"g":5,"x":1.5,"y":0.85},{"g":5,"x":1.55,"y":0.83},{"g":5,"x":1.6,"y":0.82},{"g":5,"x":1.65,"y":0.845},{"g":5,"x":1.7,"y":0.88},{"g":5,"x":1.75,"y":0.9},{"g":5,"x":1.8,"y":0.86},{"g":5,"x":1.85,"y":0.845},{"g":5,"x":1.9,"y":0.82},{"g":5,"x":1.95,"y":0.845},{"g":5,"x":2.0,"y":0.86},{"g":5,"x":2.1,"y":0.85},{"g":5,"x":2.2,"y":0.83},{"g":5,"x":2.3,"y":0.855},{"g":5,"x":2.4,"y":0.865},{"g":5,"x":2.5,"y":0.87},{"g":5,"x":2.6,"y":0.85},{"g":5,"x":2.7,"y":0.855},{"g":5,"x":2.75,"y":0.881},{"g":5,"x":2.8,"y":0.85},{"g":5,"x":2.9,"y":0.84},{"g":5,"x":3.0,"y":0.86},{"g":5,"x":3.1,"y":0.85},{"g":5,"x":3.2,"y":0.865},{"g":5,"x":3.3,"y":0.84},{"g":5,"x":3.4,"y":0.85},{"g":5,"x":3.5,"y":0.865},{"g":5,"x":3.6,"y":0.86},{"g":5,"x":3.65,"y":0.87},{"g":5,"x":3.7,"y":0.855},{"g":5,"x":3.8,"y":0.85},{"g":5,"x":3.9,"y":0.86},{"g":5,"x":4.0,"y":0.855},{"g":5,"x":4.1,"y":0.86},{"g":5,"x":4.2,"y":0.85},{"g":5,"x":4.3,"y":0.845},{"g":5,"x":4.4,"y":0.85},{"g":5,"x":4.5,"y":0.845},{"g":5,"x":4.6,"y":0.855},{"g":5,"x":4.7,"y":0.85},{"g":5,"x":4.8,"y":0.845},{"g":5,"x":4.9,"y":0.842},{"g":5,"x":5.0,"y":0.84},
{"g":5,"x":2.05,"y":0.845},{"g":5,"x":2.15,"y":0.865},{"g":5,"x":2.25,"y":0.845},{"g":5,"x":2.35,"y":0.87},{"g":5,"x":2.45,"y":0.855},{"g":5,"x":2.55,"y":0.86},{"g":5,"x":2.65,"y":0.865},{"g":5,"x":2.85,"y":0.855},{"g":5,"x":2.95,"y":0.85},{"g":5,"x":3.05,"y":0.87},{"g":5,"x":3.15,"y":0.845},{"g":5,"x":3.25,"y":0.855},{"g":5,"x":3.35,"y":0.86},{"g":5,"x":3.45,"y":0.87},{"g":5,"x":3.55,"y":0.85},{"g":5,"x":3.75,"y":0.865},{"g":5,"x":3.85,"y":0.845},{"g":5,"x":3.95,"y":0.865},{"g":5,"x":4.05,"y":0.848},{"g":5,"x":4.15,"y":0.852},{"g":5,"x":4.25,"y":0.86},{"g":5,"x":4.35,"y":0.85},{"g":5,"x":4.45,"y":0.855},{"g":5,"x":4.55,"y":0.84},{"g":5,"x":4.65,"y":0.848},{"g":5,"x":4.75,"y":0.855},{"g":5,"x":4.85,"y":0.85},{"g":5,"x":4.95,"y":0.845}
],
"c": [
{"g":1,"x":0.0,"y":0.875},{"g":1,"x":0.03,"y":0.872},{"g":1,"x":0.05,"y":0.91},{"g":1,"x":0.08,"y":0.864},{"g":1,"x":0.1,"y":0.9},{"g":1,"x":0.15,"y":0.905},{"g":1,"x":0.2,"y":0.895},{"g":1,"x":0.25,"y":0.89},{"g":1,"x":0.3,"y":0.905},{"g":1,"x":0.35,"y":0.92},{"g":1,"x":0.4,"y":0.91},{"g":1,"x":0.45,"y":0.9},{"g":1,"x":0.5,"y":0.905},{"g":1,"x":0.55,"y":0.915},{"g":1,"x":0.6,"y":0.9},{"g":1,"x":0.65,"y":0.915},{"g":1,"x":0.7,"y":0.9},{"g":1,"x":0.75,"y":0.895},{"g":1,"x":0.8,"y":0.88},{"g":1,"x":0.85,"y":0.91},{"g":1,"x":0.93,"y":0.928},{"g":1,"x":1.0,"y":0.91},{"g":1,"x":1.05,"y":0.895},{"g":1,"x":1.1,"y":0.91},{"g":1,"x":1.15,"y":0.89},{"g":1,"x":1.2,"y":0.875},{"g":1,"x":1.25,"y":0.88},{"g":1,"x":1.3,"y":0.895},{"g":1,"x":1.35,"y":0.885},{"g":1,"x":1.4,"y":0.89},{"g":1,"x":1.45,"y":0.9},{"g":1,"x":1.5,"y":0.88},{"g":1,"x":1.55,"y":0.89},{"g":1,"x":1.6,"y":0.885},{"g":1,"x":1.65,"y":0.9},{"g":1,"x":1.7,"y":0.875},{"g":1,"x":1.8,"y":0.89},{"g":1,"x":1.9,"y":0.905},{"g":1,"x":2.0,"y":0.92},{"g":1,"x":2.05,"y":0.91},{"g":1,"x":2.1,"y":0.915},{"g":1,"x":2.2,"y":0.91},{"g":1,"x":2.3,"y":0.92},{"g":1,"x":2.35,"y":0.908},{"g":1,"x":2.4,"y":0.905},{"g":1,"x":2.5,"y":0.915},{"g":1,"x":2.6,"y":0.9},{"g":1,"x":2.7,"y":0.905},{"g":1,"x":2.8,"y":0.918},{"g":1,"x":2.9,"y":0.905},{"g":1,"x":3.0,"y":0.9},{"g":1,"x":3.1,"y":0.905},{"g":1,"x":3.2,"y":0.9},{"g":1,"x":3.3,"y":0.895},{"g":1,"x":3.4,"y":0.885},{"g":1,"x":3.5,"y":0.89},{"g":1,"x":3.6,"y":0.895},{"g":1,"x":3.7,"y":0.89},{"g":1,"x":3.8,"y":0.9},{"g":1,"x":3.9,"y":0.885},{"g":1,"x":4.0,"y":0.895},{"g":1,"x":4.1,"y":0.89},{"g":1,"x":4.2,"y":0.895},{"g":1,"x":4.3,"y":0.89},{"g":1,"x":4.4,"y":0.9},{"g":1,"x":4.5,"y":0.895},{"g":1,"x":4.6,"y":0.905},{"g":1,"x":4.7,"y":0.91},{"g":1,"x":4.8,"y":0.9},{"g":1,"x":4.9,"y":0.905},{"g":1,"x":5.0,"y":0.9},
{"g":1,"x":2.15,"y":0.908},{"g":1,"x":2.25,"y":0.915},{"g":1,"x":2.45,"y":0.91},{"g":1,"x":2.55,"y":0.905},{"g":1,"x":2.65,"y":0.91},{"g":1,"x":2.75,"y":0.9},{"g":1,"x":2.85,"y":0.91},{"g":1,"x":2.95,"y":0.898},{"g":1,"x":3.05,"y":0.902},{"g":1,"x":3.15,"y":0.908},{"g":1,"x":3.25,"y":0.895},{"g":1,"x":3.35,"y":0.892},{"g":1,"x":3.45,"y":0.89},{"g":1,"x":3.55,"y":0.885},{"g":1,"x":3.65,"y":0.89},{"g":1,"x":3.75,"y":0.885},{"g":1,"x":3.85,"y":0.895},{"g":1,"x":3.95,"y":0.89},{"g":1,"x":4.05,"y":0.885},{"g":1,"x":4.15,"y":0.9},{"g":1,"x":4.25,"y":0.888},{"g":1,"x":4.35,"y":0.895},{"g":1,"x":4.45,"y":0.89},{"g":1,"x":4.55,"y":0.9},{"g":1,"x":4.65,"y":0.898},{"g":1,"x":4.75,"y":0.9},{"g":1,"x":4.85,"y":0.91},{"g":1,"x":4.95,"y":0.908},
{"g":2,"x":0.0,"y":0.91},{"g":2,"x":0.05,"y":0.895},{"g":2,"x":0.1,"y":0.905},{"g":2,"x":0.15,"y":0.89},{"g":2,"x":0.2,"y":0.88},{"g":2,"x":0.25,"y":0.9},{"g":2,"x":0.3,"y":0.91},{"g":2,"x":0.35,"y":0.895},{"g":2,"x":0.4,"y":0.872},{"g":2,"x":0.45,"y":0.89},{"g":2,"x":0.5,"y":0.9},{"g":2,"x":0.6,"y":0.895},{"g":2,"x":0.7,"y":0.905},{"g":2,"x":0.8,"y":0.89},{"g":2,"x":0.9,"y":0.92},{"g":2,"x":1.0,"y":0.905},{"g":2,"x":1.1,"y":0.91},{"g":2,"x":1.2,"y":0.925},{"g":2,"x":1.3,"y":0.928},{"g":2,"x":1.4,"y":0.91},{"g":2,"x":1.5,"y":0.9},{"g":2,"x":1.6,"y":0.905},{"g":2,"x":1.7,"y":0.89},{"g":2,"x":1.8,"y":0.88},{"g":2,"x":1.9,"y":0.878},{"g":2,"x":2.0,"y":0.895},{"g":2,"x":2.1,"y":0.9},{"g":2,"x":2.2,"y":0.905},{"g":2,"x":2.3,"y":0.91},{"g":2,"x":2.4,"y":0.905},{"g":2,"x":2.5,"y":0.9},{"g":2,"x":2.6,"y":0.91},{"g":2,"x":2.7,"y":0.905},{"g":2,"x":2.8,"y":0.915},{"g":2,"x":2.9,"y":0.905},{"g":2,"x":3.0,"y":0.9},{"g":2,"x":3.1,"y":0.895},{"g":2,"x":3.2,"y":0.905},{"g":2,"x":3.3,"y":0.9},{"g":2,"x":3.4,"y":0.895},{"g":2,"x":3.5,"y":0.9},{"g":2,"x":3.6,"y":0.91},{"g":2,"x":3.7,"y":0.905},{"g":2,"x":3.8,"y":0.91},{"g":2,"x":3.9,"y":0.905},{"g":2,"x":4.0,"y":0.9},{"g":2,"x":4.1,"y":0.905},{"g":2,"x":4.2,"y":0.91},{"g":2,"x":4.3,"y":0.905},{"g":2,"x":4.4,"y":0.91},{"g":2,"x":4.5,"y":0.905},{"g":2,"x":4.55,"y":0.922},{"g":2,"x":4.6,"y":0.905},{"g":2,"x":4.7,"y":0.91},{"g":2,"x":4.8,"y":0.905},{"g":2,"x":4.9,"y":0.91},{"g":2,"x":5.0,"y":0.905},
{"g":2,"x":0.55,"y":0.91},{"g":2,"x":0.65,"y":0.905},{"g":2,"x":0.75,"y":0.895},{"g":2,"x":0.85,"y":0.91},{"g":2,"x":0.95,"y":0.9},{"g":2,"x":1.05,"y":0.915},{"g":2,"x":1.15,"y":0.905},{"g":2,"x":1.25,"y":0.915},{"g":2,"x":1.35,"y":0.92},{"g":2,"x":1.45,"y":0.895},{"g":2,"x":1.55,"y":0.91},{"g":2,"x":1.65,"y":0.895},{"g":2,"x":1.75,"y":0.885},{"g":2,"x":1.85,"y":0.885},{"g":2,"x":1.95,"y":0.885},{"g":2,"x":2.05,"y":0.905},{"g":2,"x":2.15,"y":0.892},{"g":2,"x":2.25,"y":0.9},{"g":2,"x":2.35,"y":0.898},{"g":2,"x":2.45,"y":0.91},{"g":2,"x":2.55,"y":0.895},{"g":2,"x":2.65,"y":0.9},{"g":2,"x":2.75,"y":0.91},{"g":2,"x":2.85,"y":0.905},{"g":2,"x":2.95,"y":0.912},{"g":2,"x":3.05,"y":0.905},{"g":2,"x":3.15,"y":0.9},{"g":2,"x":3.25,"y":0.895},{"g":2,"x":3.35,"y":0.905},{"g":2,"x":3.45,"y":0.9},{"g":2,"x":3.55,"y":0.91},{"g":2,"x":3.65,"y":0.9},{"g":2,"x":3.75,"y":0.912},{"g":2,"x":3.85,"y":0.9},{"g":2,"x":3.95,"y":0.91},{"g":2,"x":4.05,"y":0.91},{"g":2,"x":4.15,"y":0.9},{"g":2,"x":4.25,"y":0.902},{"g":2,"x":4.35,"y":0.912},{"g":2,"x":4.45,"y":0.9},{"g":2,"x":4.65,"y":0.912},{"g":2,"x":4.75,"y":0.902},{"g":2,"x":4.85,"y":0.912},{"g":2,"x":4.95,"y":0.902},
{"g":3,"x":0.0,"y":0.9},{"g":3,"x":0.05,"y":0.925},{"g":3,"x":0.08,"y":0.92},{"g":3,"x":0.1,"y":0.885},{"g":3,"x":0.15,"y":0.91},{"g":3,"x":0.2,"y":0.895},{"g":3,"x":0.25,"y":0.905},{"g":3,"x":0.3,"y":0.915},{"g":3,"x":0.35,"y":0.9},{"g":3,"x":0.4,"y":0.92},{"g":3,"x":0.45,"y":0.91},{"g":3,"x":0.5,"y":0.905},{"g":3,"x":0.6,"y":0.9},{"g":3,"x":0.7,"y":0.91},{"g":3,"x":0.8,"y":0.915},{"g":3,"x":0.9,"y":0.89},{"g":3,"x":1.0,"y":0.91},{"g":3,"x":1.1,"y":0.905},{"g":3,"x":1.2,"y":0.9},{"g":3,"x":1.3,"y":0.895},{"g":3,"x":1.4,"y":0.885},{"g":3,"x":1.5,"y":0.87},{"g":3,"x":1.6,"y":0.895},{"g":3,"x":1.7,"y":0.89},{"g":3,"x":1.8,"y":0.905},{"g":3,"x":1.9,"y":0.91},{"g":3,"x":2.0,"y":0.895},{"g":3,"x":2.1,"y":0.885},{"g":3,"x":2.2,"y":0.89},{"g":3,"x":2.3,"y":0.882},{"g":3,"x":2.4,"y":0.89},{"g":3,"x":2.5,"y":0.895},{"g":3,"x":2.6,"y":0.885},{"g":3,"x":2.7,"y":0.89},{"g":3,"x":2.8,"y":0.885},{"g":3,"x":2.9,"y":0.89},{"g":3,"x":3.0,"y":0.895},{"g":3,"x":3.1,"y":0.9},{"g":3,"x":3.2,"y":0.905},{"g":3,"x":3.3,"y":0.9},{"g":3,"x":3.4,"y":0.895},{"g":3,"x":3.5,"y":0.89},{"g":3,"x":3.6,"y":0.9},{"g":3,"x":3.7,"y":0.895},{"g":3,"x":3.8,"y":0.89},{"g":3,"x":3.9,"y":0.885},{"g":3,"x":4.0,"y":0.878},{"g":3,"x":4.05,"y":0.875},{"g":3,"x":4.1,"y":0.89},{"g":3,"x":4.2,"y":0.895},{"g":3,"x":4.3,"y":0.89},{"g":3,"x":4.4,"y":0.885},{"g":3,"x":4.5,"y":0.89},{"g":3,"x":4.6,"y":0.895},{"g":3,"x":4.7,"y":0.89},{"g":3,"x":4.8,"y":0.888},{"g":3,"x":4.9,"y":0.885},{"g":3,"x":5.0,"y":0.895},
{"g":3,"x":0.55,"y":0.915},{"g":3,"x":0.65,"y":0.905},{"g":3,"x":0.75,"y":0.895},{"g":3,"x":0.85,"y":0.9},{"g":3,"x":0.95,"y":0.905},{"g":3,"x":1.05,"y":0.9},{"g":3,"x":1.15,"y":0.91},{"g":3,"x":1.25,"y":0.89},{"g":3,"x":1.35,"y":0.9},{"g":3,"x":1.45,"y":0.88},{"g":3,"x":1.55,"y":0.88},{"g":3,"x":1.65,"y":0.885},{"g":3,"x":1.75,"y":0.895},{"g":3,"x":1.85,"y":0.9},{"g":3,"x":1.95,"y":0.9},{"g":3,"x":2.05,"y":0.89},{"g":3,"x":2.15,"y":0.895},{"g":3,"x":2.25,"y":0.885},{"g":3,"x":2.35,"y":0.892},{"g":3,"x":2.45,"y":0.885},{"g":3,"x":2.55,"y":0.89},{"g":3,"x":2.65,"y":0.892},{"g":3,"x":2.75,"y":0.885},{"g":3,"x":2.85,"y":0.892},{"g":3,"x":2.95,"y":0.885},{"g":3,"x":3.05,"y":0.892},{"g":3,"x":3.15,"y":0.895},{"g":3,"x":3.25,"y":0.898},{"g":3,"x":3.35,"y":0.905},{"g":3,"x":3.45,"y":0.9},{"g":3,"x":3.55,"y":0.895},{"g":3,"x":3.65,"y":0.89},{"g":3,"x":3.75,"y":0.9},{"g":3,"x":3.85,"y":0.895},{"g":3,"x":3.95,"y":0.89},{"g":3,"x":4.15,"y":0.885},{"g":3,"x":4.25,"y":0.89},{"g":3,"x":4.35,"y":0.885},{"g":3,"x":4.45,"y":0.893},{"g":3,"x":4.55,"y":0.888},{"g":3,"x":4.65,"y":0.89},{"g":3,"x":4.75,"y":0.885},{"g":3,"x":4.85,"y":0.892},{"g":3,"x":4.95,"y":0.888},
{"g":4,"x":0.0,"y":0.91},{"g":4,"x":0.05,"y":0.88},{"g":4,"x":0.1,"y":0.9},{"g":4,"x":0.15,"y":0.91},{"g":4,"x":0.2,"y":0.895},{"g":4,"x":0.25,"y":0.9},{"g":4,"x":0.3,"y":0.872},{"g":4,"x":0.35,"y":0.905},{"g":4,"x":0.4,"y":0.89},{"g":4,"x":0.45,"y":0.9},{"g":4,"x":0.5,"y":0.91},{"g":4,"x":0.6,"y":0.895},{"g":4,"x":0.7,"y":0.92},{"g":4,"x":0.8,"y":0.9},{"g":4,"x":0.85,"y":0.92},{"g":4,"x":0.9,"y":0.905},{"g":4,"x":1.0,"y":0.91},{"g":4,"x":1.05,"y":0.895},{"g":4,"x":1.15,"y":0.92},{"g":4,"x":1.2,"y":0.928},{"g":4,"x":1.3,"y":0.905},{"g":4,"x":1.4,"y":0.915},{"g":4,"x":1.5,"y":0.89},{"g":4,"x":1.6,"y":0.87},{"g":4,"x":1.7,"y":0.895},{"g":4,"x":1.8,"y":0.885},{"g":4,"x":1.9,"y":0.9},{"g":4,"x":2.0,"y":0.91},{"g":4,"x":2.1,"y":0.885},{"g":4,"x":2.2,"y":0.895},{"g":4,"x":2.3,"y":0.9},{"g":4,"x":2.4,"y":0.895},{"g":4,"x":2.5,"y":0.91},{"g":4,"x":2.6,"y":0.925},{"g":4,"x":2.7,"y":0.905},{"g":4,"x":2.75,"y":0.88},{"g":4,"x":2.8,"y":0.9},{"g":4,"x":2.9,"y":0.895},{"g":4,"x":3.0,"y":0.905},{"g":4,"x":3.1,"y":0.9},{"g":4,"x":3.2,"y":0.895},{"g":4,"x":3.3,"y":0.9},{"g":4,"x":3.4,"y":0.895},{"g":4,"x":3.5,"y":0.905},{"g":4,"x":3.6,"y":0.9},{"g":4,"x":3.7,"y":0.905},{"g":4,"x":3.8,"y":0.895},{"g":4,"x":3.9,"y":0.9},{"g":4,"x":4.0,"y":0.91},{"g":4,"x":4.1,"y":0.9},{"g":4,"x":4.2,"y":0.905},{"g":4,"x":4.3,"y":0.895},{"g":4,"x":4.4,"y":0.9},{"g":4,"x":4.5,"y":0.905},{"g":4,"x":4.6,"y":0.895},{"g":4,"x":4.7,"y":0.9},{"g":4,"x":4.8,"y":0.885},{"g":4,"x":4.9,"y":0.895},{"g":4,"x":5.0,"y":0.89},
{"g":4,"x":0.55,"y":0.9},{"g":4,"x":0.65,"y":0.915},{"g":4,"x":0.75,"y":0.905},{"g":4,"x":0.95,"y":0.9},{"g":4,"x":1.1,"y":0.905},{"g":4,"x":1.25,"y":0.91},{"g":4,"x":1.35,"y":0.92},{"g":4,"x":1.45,"y":0.9},{"g":4,"x":1.55,"y":0.88},{"g":4,"x":1.65,"y":0.885},{"g":4,"x":1.75,"y":0.88},{"g":4,"x":1.85,"y":0.895},{"g":4,"x":1.95,"y":0.905},{"g":4,"x":2.05,"y":0.89},{"g":4,"x":2.15,"y":0.9},{"g":4,"x":2.25,"y":0.888},{"g":4,"x":2.35,"y":0.905},{"g":4,"x":2.45,"y":0.9},{"g":4,"x":2.55,"y":0.9},{"g":4,"x":2.65,"y":0.91},{"g":4,"x":2.85,"y":0.905},{"g":4,"x":2.95,"y":0.9},{"g":4,"x":3.05,"y":0.895},{"g":4,"x":3.15,"y":0.905},{"g":4,"x":3.25,"y":0.9},{"g":4,"x":3.35,"y":0.905},{"g":4,"x":3.45,"y":0.9},{"g":4,"x":3.55,"y":0.895},{"g":4,"x":3.65,"y":0.908},{"g":4,"x":3.75,"y":0.895},{"g":4,"x":3.85,"y":0.905},{"g":4,"x":3.95,"y":0.895},{"g":4,"x":4.05,"y":0.905},{"g":4,"x":4.15,"y":0.905},{"g":4,"x":4.25,"y":0.895},{"g":4,"x":4.35,"y":0.905},{"g":4,"x":4.45,"y":0.895},{"g":4,"x":4.55,"y":0.9},{"g":4,"x":4.65,"y":0.905},{"g":4,"x":4.75,"y":0.895},{"g":4,"x":4.85,"y":0.9},{"g":4,"x":4.95,"y":0.885},
{"g":5,"x":0.0,"y":0.895},{"g":5,"x":0.05,"y":0.915},{"g":5,"x":0.1,"y":0.895},{"g":5,"x":0.15,"y":0.905},{"g":5,"x":0.2,"y":0.915},{"g":5,"x":0.25,"y":0.9},{"g":5,"x":0.3,"y":0.89},{"g":5,"x":0.35,"y":0.905},{"g":5,"x":0.4,"y":0.9},{"g":5,"x":0.45,"y":0.92},{"g":5,"x":0.5,"y":0.895},{"g":5,"x":0.55,"y":0.905},{"g":5,"x":0.6,"y":0.885},{"g":5,"x":0.65,"y":0.865},{"g":5,"x":0.7,"y":0.875},{"g":5,"x":0.75,"y":0.865},{"g":5,"x":0.8,"y":0.9},{"g":5,"x":0.85,"y":0.915},{"g":5,"x":0.9,"y":0.88},{"g":5,"x":0.97,"y":0.865},{"g":5,"x":1.0,"y":0.9},{"g":5,"x":1.05,"y":0.91},{"g":5,"x":1.1,"y":0.88},{"g":5,"x":1.15,"y":0.89},{"g":5,"x":1.22,"y":0.85},{"g":5,"x":1.3,"y":0.88},{"g":5,"x":1.35,"y":0.905},{"g":5,"x":1.4,"y":0.87},{"g":5,"x":1.45,"y":0.858},{"g":5,"x":1.5,"y":0.89},{"g":5,"x":1.55,"y":0.88},{"g":5,"x":1.6,"y":0.875},{"g":5,"x":1.65,"y":0.87},{"g":5,"x":1.7,"y":0.88},{"g":5,"x":1.75,"y":0.885},{"g":5,"x":1.8,"y":0.895},{"g":5,"x":1.85,"y":0.9},{"g":5,"x":1.9,"y":0.905},{"g":5,"x":1.95,"y":0.895},{"g":5,"x":2.0,"y":0.9},{"g":5,"x":2.1,"y":0.895},{"g":5,"x":2.2,"y":0.9},{"g":5,"x":2.3,"y":0.89},{"g":5,"x":2.4,"y":0.895},{"g":5,"x":2.5,"y":0.9},{"g":5,"x":2.6,"y":0.895},{"g":5,"x":2.7,"y":0.9},{"g":5,"x":2.8,"y":0.905},{"g":5,"x":2.9,"y":0.9},{"g":5,"x":3.0,"y":0.905},{"g":5,"x":3.1,"y":0.9},{"g":5,"x":3.2,"y":0.905},{"g":5,"x":3.3,"y":0.895},{"g":5,"x":3.4,"y":0.9},{"g":5,"x":3.5,"y":0.918},{"g":5,"x":3.6,"y":0.91},{"g":5,"x":3.7,"y":0.905},{"g":5,"x":3.8,"y":0.9},{"g":5,"x":3.9,"y":0.905},{"g":5,"x":4.0,"y":0.912},{"g":5,"x":4.1,"y":0.905},{"g":5,"x":4.2,"y":0.9},{"g":5,"x":4.3,"y":0.91},{"g":5,"x":4.4,"y":0.905},{"g":5,"x":4.5,"y":0.9},{"g":5,"x":4.6,"y":0.91},{"g":5,"x":4.7,"y":0.905},{"g":5,"x":4.8,"y":0.895},{"g":5,"x":4.9,"y":0.9},{"g":5,"x":5.0,"y":0.895},
{"g":5,"x":2.05,"y":0.905},{"g":5,"x":2.15,"y":0.9},{"g":5,"x":2.25,"y":0.895},{"g":5,"x":2.35,"y":0.9},{"g":5,"x":2.45,"y":0.893},{"g":5,"x":2.55,"y":0.905},{"g":5,"x":2.65,"y":0.9},{"g":5,"x":2.75,"y":0.895},{"g":5,"x":2.85,"y":0.898},{"g":5,"x":2.95,"y":0.905},{"g":5,"x":3.05,"y":0.9},{"g":5,"x":3.15,"y":0.898},{"g":5,"x":3.25,"y":0.9},{"g":5,"x":3.35,"y":0.905},{"g":5,"x":3.45,"y":0.905},{"g":5,"x":3.55,"y":0.905},{"g":5,"x":3.65,"y":0.915},{"g":5,"x":3.75,"y":0.91},{"g":5,"x":3.85,"y":0.91},{"g":5,"x":3.95,"y":0.9},{"g":5,"x":4.05,"y":0.905},{"g":5,"x":4.15,"y":0.91},{"g":5,"x":4.25,"y":0.905},{"g":5,"x":4.35,"y":0.9},{"g":5,"x":4.45,"y":0.91},{"g":5,"x":4.55,"y":0.905},{"g":5,"x":4.65,"y":0.895},{"g":5,"x":4.75,"y":0.91},{"g":5,"x":4.85,"y":0.905},{"g":5,"x":4.95,"y":0.895}
],
"d": [
{"g":1,"x":0.02,"y":0.875},{"g":1,"x":0.1,"y":0.9},{"g":1,"x":0.15,"y":0.89},{"g":1,"x":0.2,"y":0.85},{"g":1,"x":0.25,"y":0.9},{"g":1,"x":0.3,"y":0.89},{"g":1,"x":0.35,"y":0.92},{"g":1,"x":0.4,"y":0.93},{"g":1,"x":0.5,"y":0.91},{"g":1,"x":0.6,"y":0.92},{"g":1,"x":0.7,"y":0.925},{"g":1,"x":0.8,"y":0.94},{"g":1,"x":0.9,"y":0.955},{"g":1,"x":0.95,"y":0.96},{"g":1,"x":1.0,"y":0.95},{"g":1,"x":1.1,"y":0.945},{"g":1,"x":1.2,"y":0.955},{"g":1,"x":1.3,"y":0.96},{"g":1,"x":1.4,"y":0.958},{"g":1,"x":1.5,"y":0.955},{"g":1,"x":1.6,"y":0.95},{"g":1,"x":1.7,"y":0.945},{"g":1,"x":1.78,"y":0.963},{"g":1,"x":1.85,"y":0.95},{"g":1,"x":1.9,"y":0.935},{"g":1,"x":2.0,"y":0.94},{"g":1,"x":2.1,"y":0.945},{"g":1,"x":2.2,"y":0.95},{"g":1,"x":2.3,"y":0.955},{"g":1,"x":2.4,"y":0.95},{"g":1,"x":2.5,"y":0.945},{"g":1,"x":2.6,"y":0.94},{"g":1,"x":2.7,"y":0.942},{"g":1,"x":2.8,"y":0.94},{"g":1,"x":2.9,"y":0.943},{"g":1,"x":3.0,"y":0.942},{"g":1,"x":3.1,"y":0.938},{"g":1,"x":3.2,"y":0.935},{"g":1,"x":3.3,"y":0.94},{"g":1,"x":3.4,"y":0.94},{"g":1,"x":3.5,"y":0.945},{"g":1,"x":3.6,"y":0.942},{"g":1,"x":3.7,"y":0.94},{"g":1,"x":3.8,"y":0.942},{"g":1,"x":3.9,"y":0.94},{"g":1,"x":4.0,"y":0.94},{"g":1,"x":4.1,"y":0.942},{"g":1,"x":4.2,"y":0.94},{"g":1,"x":4.3,"y":0.945},{"g":1,"x":4.4,"y":0.942},{"g":1,"x":4.5,"y":0.94},{"g":1,"x":4.6,"y":0.942},{"g":1,"x":4.7,"y":0.945},{"g":1,"x":4.8,"y":0.942},{"g":1,"x":4.9,"y":0.94},{"g":1,"x":5.0,"y":0.945},
{"g":2,"x":0.02,"y":0.88},{"g":2,"x":0.1,"y":0.87},{"g":2,"x":0.15,"y":0.89},{"g":2,"x":0.2,"y":0.85},{"g":2,"x":0.25,"y":0.775},{"g":2,"x":0.3,"y":0.83},{"g":2,"x":0.35,"y":0.86},{"g":2,"x":0.4,"y":0.88},{"g":2,"x":0.5,"y":0.9},{"g":2,"x":0.6,"y":0.89},{"g":2,"x":0.7,"y":0.905},{"g":2,"x":0.8,"y":0.89},{"g":2,"x":0.9,"y":0.92},{"g":2,"x":1.0,"y":0.9},{"g":2,"x":1.1,"y":0.88},{"g":2,"x":1.15,"y":0.855},{"g":2,"x":1.2,"y":0.89},{"g":2,"x":1.3,"y":0.86},{"g":2,"x":1.4,"y":0.9},{"g":2,"x":1.5,"y":0.92},{"g":2,"x":1.6,"y":0.935},{"g":2,"x":1.7,"y":0.92},{"g":2,"x":1.8,"y":0.925},{"g":2,"x":1.9,"y":0.94},{"g":2,"x":2.0,"y":0.945},{"g":2,"x":2.1,"y":0.935},{"g":2,"x":2.2,"y":0.932},{"g":2,"x":2.3,"y":0.93},{"g":2,"x":2.4,"y":0.935},{"g":2,"x":2.5,"y":0.935},{"g":2,"x":2.7,"y":0.933},{"g":2,"x":3.0,"y":0.935},{"g":2,"x":3.2,"y":0.932},{"g":2,"x":3.5,"y":0.93},{"g":2,"x":3.8,"y":0.932},{"g":2,"x":4.0,"y":0.93},{"g":2,"x":4.3,"y":0.93},{"g":2,"x":4.5,"y":0.928},{"g":2,"x":4.8,"y":0.927},{"g":2,"x":5.0,"y":0.925},
{"g":3,"x":0.02,"y":0.875},{"g":3,"x":0.05,"y":0.87},{"g":3,"x":0.08,"y":0.805},{"g":3,"x":0.1,"y":0.8},{"g":3,"x":0.13,"y":0.78},{"g":3,"x":0.15,"y":0.85},{"g":3,"x":0.2,"y":0.755},{"g":3,"x":0.25,"y":0.8},{"g":3,"x":0.3,"y":0.86},{"g":3,"x":0.33,"y":0.84},{"g":3,"x":0.36,"y":0.9},{"g":3,"x":0.4,"y":0.85},{"g":3,"x":0.45,"y":0.83},{"g":3,"x":0.5,"y":0.85},{"g":3,"x":0.55,"y":0.83},{"g":3,"x":0.6,"y":0.84},{"g":3,"x":0.65,"y":0.82},{"g":3,"x":0.68,"y":0.86},{"g":3,"x":0.72,"y":0.855},{"g":3,"x":0.75,"y":0.84},{"g":3,"x":0.78,"y":0.688},{"g":3,"x":0.82,"y":0.79},{"g":3,"x":0.85,"y":0.72},{"g":3,"x":0.88,"y":0.66},{"g":3,"x":0.92,"y":0.75},{"g":3,"x":0.95,"y":0.642},{"g":3,"x":1.0,"y":0.73},{"g":3,"x":1.05,"y":0.78},{"g":3,"x":1.1,"y":0.805},{"g":3,"x":1.15,"y":0.79},{"g":3,"x":1.2,"y":0.745},{"g":3,"x":1.24,"y":0.824},{"g":3,"x":1.28,"y":0.745},{"g":3,"x":1.33,"y":0.79},{"g":3,"x":1.36,"y":0.68},{"g":3,"x":1.4,"y":0.73},{"g":3,"x":1.45,"y":0.655},{"g":3,"x":1.5,"y":0.754},{"g":3,"x":1.52,"y":0.7},{"g":3,"x":1.55,"y":0.668},{"g":3,"x":1.61,"y":0.38},{"g":3,"x":1.72,"y":0.656},{"g":3,"x":1.76,"y":0.38},{"g":3,"x":1.8,"y":0.504},{"g":3,"x":1.84,"y":0.55},{"g":3,"x":1.9,"y":0.648},{"g":3,"x":1.92,"y":0.55},{"g":3,"x":1.96,"y":0.6},{"g":3,"x":2.0,"y":0.63},{"g":3,"x":2.05,"y":0.615},{"g":3,"x":2.1,"y":0.64},{"g":3,"x":2.15,"y":0.62},{"g":3,"x":2.2,"y":0.576},{"g":3,"x":2.3,"y":0.635},{"g":3,"x":2.4,"y":0.62},{"g":3,"x":2.5,"y":0.64},{"g":3,"x":2.6,"y":0.66},{"g":3,"x":2.65,"y":0.69},{"g":3,"x":2.7,"y":0.67},{"g":3,"x":2.8,"y":0.68},{"g":3,"x":2.9,"y":0.69},{"g":3,"x":3.0,"y":0.675},{"g":3,"x":3.1,"y":0.67},{"g":3,"x":3.2,"y":0.665},{"g":3,"x":3.3,"y":0.66},{"g":3,"x":3.4,"y":0.645},{"g":3,"x":3.5,"y":0.66},{"g":3,"x":3.6,"y":0.645},{"g":3,"x":3.7,"y":0.64},{"g":3,"x":3.8,"y":0.63},{"g":3,"x":3.9,"y":0.645},{"g":3,"x":4.0,"y":0.65},{"g":3,"x":4.05,"y":0.68},{"g":3,"x":4.2,"y":0.68},{"g":3,"x":4.3,"y":0.685},{"g":3,"x":4.4,"y":0.675},{"g":3,"x":4.5,"y":0.68},{"g":3,"x":4.6,"y":0.67},{"g":3,"x":4.7,"y":0.665},{"g":3,"x":4.8,"y":0.655},{"g":3,"x":4.9,"y":0.69},{"g":3,"x":4.93,"y":0.7},{"g":3,"x":5.0,"y":0.665},
{"g":4,"x":0.02,"y":0.91},{"g":4,"x":0.05,"y":0.935},{"g":4,"x":0.1,"y":0.925},{"g":4,"x":0.15,"y":0.92},{"g":4,"x":0.2,"y":0.94},{"g":4,"x":0.3,"y":0.953},{"g":4,"x":0.35,"y":0.935},{"g":4,"x":0.4,"y":0.92},{"g":4,"x":0.5,"y":0.91},{"g":4,"x":0.6,"y":0.92},{"g":4,"x":0.7,"y":0.9},{"g":4,"x":0.8,"y":0.905},{"g":4,"x":0.85,"y":0.935},{"g":4,"x":0.9,"y":0.92},{"g":4,"x":1.0,"y":0.925},{"g":4,"x":1.05,"y":0.915},{"g":4,"x":1.1,"y":0.88},{"g":4,"x":1.15,"y":0.88},{"g":4,"x":1.2,"y":0.9},{"g":4,"x":1.3,"y":0.93},{"g":4,"x":1.4,"y":0.925},{"g":4,"x":1.45,"y":0.9},{"g":4,"x":1.5,"y":0.92},{"g":4,"x":1.6,"y":0.94},{"g":4,"x":1.7,"y":0.935},{"g":4,"x":1.8,"y":0.95},{"g":4,"x":1.9,"y":0.935},{"g":4,"x":2.0,"y":0.94},{"g":4,"x":2.05,"y":0.93},{"g":4,"x":2.15,"y":0.91},{"g":4,"x":2.25,"y":0.92},{"g":4,"x":2.35,"y":0.915},{"g":4,"x":2.5,"y":0.925},{"g":4,"x":2.6,"y":0.915},{"g":4,"x":2.8,"y":0.92},{"g":4,"x":3.0,"y":0.91},{"g":4,"x":3.2,"y":0.92},{"g":4,"x":3.4,"y":0.915},{"g":4,"x":3.5,"y":0.925},{"g":4,"x":3.7,"y":0.92},{"g":4,"x":3.9,"y":0.925},{"g":4,"x":4.1,"y":0.92},{"g":4,"x":4.3,"y":0.915},{"g":4,"x":4.5,"y":0.91},{"g":4,"x":4.7,"y":0.915},{"g":4,"x":4.9,"y":0.92},{"g":4,"x":5.0,"y":0.915},
{"g":5,"x":0.02,"y":0.91},{"g":5,"x":0.05,"y":0.94},{"g":5,"x":0.1,"y":0.935},{"g":5,"x":0.2,"y":0.945},{"g":5,"x":0.25,"y":0.92},{"g":5,"x":0.3,"y":0.935},{"g":5,"x":0.4,"y":0.9},{"g":5,"x":0.45,"y":0.93},{"g":5,"x":0.5,"y":0.915},{"g":5,"x":0.6,"y":0.895},{"g":5,"x":0.7,"y":0.92},{"g":5,"x":0.8,"y":0.9},{"g":5,"x":0.9,"y":0.88},{"g":5,"x":0.95,"y":0.836},{"g":5,"x":1.0,"y":0.9},{"g":5,"x":1.05,"y":0.925},{"g":5,"x":1.1,"y":0.91},{"g":5,"x":1.2,"y":0.93},{"g":5,"x":1.3,"y":0.895},{"g":5,"x":1.35,"y":0.87},{"g":5,"x":1.4,"y":0.885},{"g":5,"x":1.5,"y":0.93},{"g":5,"x":1.6,"y":0.94},{"g":5,"x":1.7,"y":0.92},{"g":5,"x":1.75,"y":0.905},{"g":5,"x":1.8,"y":0.93},{"g":5,"x":1.9,"y":0.945},{"g":5,"x":2.0,"y":0.945},{"g":5,"x":2.1,"y":0.94},{"g":5,"x":2.2,"y":0.935},{"g":5,"x":2.5,"y":0.94},{"g":5,"x":3.0,"y":0.94},{"g":5,"x":3.5,"y":0.94},{"g":5,"x":4.0,"y":0.94},{"g":5,"x":4.5,"y":0.938},{"g":5,"x":5.0,"y":0.94}
]
},
"concat": [
{"width": 389, "height": 252, "title": {"text": "(a) Specialization"},
 "layer": [
  {"data": {"name": "a"}, "mark": {"type": "line"},
   "encoding": {
    "x": {"field": "x", "type": "quantitative", "scale": {"domain": [-0.235, 5.25], "nice": false, "zero": false}, "axis": {"title": "Training Episodes", "values": [0,1,2,3,4,5], "tickCount": 10, "format": "d"}},
    "y": {"field": "y", "type": "quantitative", "scale": {"domain": [0.7, 1.0], "nice": false, "zero": false}, "axis": {"title": "Cleaning Work / Total Work (Specialization)", "values": [0.7,0.75,0.8,0.85,0.9,0.95,1.0], "tickCount": 10, "format": ".2f", "labelOverlap": false}},
    "color": {"field": "g", "type": "nominal", "scale": {"domain": [1,2,3,4,5], "range": ["#0000ff","#ee82ee","#008000","#ff0000","#ffa500"]}, "legend": {"title": null, "orient": "top-right", "labelExpr": "'Agent-' + datum.label"}}
   }},
  {"data": {"values": [{"t": "1e7"}]}, "mark": {"type": "text", "align": "right", "baseline": "top", "dy": 23, "fontSize": 11.5, "color": "#333"},
   "encoding": {"x": {"datum": 5.25}, "y": {"datum": 0.7}, "text": {"field": "t"}}}
 ]},
{"width": 387, "height": 252, "title": {"text": "(b) Capitalism"},
 "layer": [
  {"data": {"name": "b"}, "mark": {"type": "line"},
   "encoding": {
    "x": {"field": "x", "type": "quantitative", "scale": {"domain": [-0.235, 5.25], "nice": false, "zero": false}, "axis": {"title": "Training Episodes", "values": [0,1,2,3,4,5], "tickCount": 10, "format": "d"}},
    "y": {"field": "y", "type": "quantitative", "scale": {"domain": [0.7, 1.0], "nice": false, "zero": false}, "axis": {"title": "Cleaning Work / Total Work (Capitalism)", "values": [0.7,0.75,0.8,0.85,0.9,0.95,1.0], "tickCount": 10, "format": ".2f", "labelOverlap": false}},
    "color": {"field": "g", "type": "nominal", "scale": {"domain": [1,2,3,4,5], "range": ["#0000ff","#ee82ee","#008000","#ff0000","#ffa500"]}, "legend": {"title": null, "orient": "top-right", "labelExpr": "'Agent-' + datum.label"}}
   }},
  {"data": {"values": [{"t": "1e7"}]}, "mark": {"type": "text", "align": "right", "baseline": "top", "dy": 23, "fontSize": 11.5, "color": "#333"},
   "encoding": {"x": {"datum": 5.25}, "y": {"datum": 0.7}, "text": {"field": "t"}}}
 ]},
{"width": 382, "height": 254, "title": {"text": "(c) Socialism"},
 "layer": [
  {"data": {"name": "c"}, "mark": {"type": "line"},
   "encoding": {
    "x": {"field": "x", "type": "quantitative", "scale": {"domain": [-0.245, 5.24], "nice": false, "zero": false}, "axis": {"title": "Training Episodes", "values": [0,1,2,3,4,5], "tickCount": 10, "format": "d"}},
    "y": {"field": "y", "type": "quantitative", "scale": {"domain": [0.8, 1.0], "nice": false, "zero": false}, "axis": {"title": "Cleaning Work / Total Work (Socialsim)", "values": [0.8,0.825,0.85,0.875,0.9,0.925,0.95,0.975,1.0], "tickCount": 12, "format": ".3f", "labelOverlap": false}},
    "color": {"field": "g", "type": "nominal", "scale": {"domain": [1,2,3,4,5], "range": ["#0000ff","#ee82ee","#008000","#ff0000","#ffa500"]}, "legend": {"title": null, "orient": "top-right", "labelExpr": "'Agent-' + datum.label"}}
   }},
  {"data": {"values": [{"t": "1e7"}]}, "mark": {"type": "text", "align": "right", "baseline": "top", "dy": 23, "fontSize": 11.5, "color": "#333"},
   "encoding": {"x": {"datum": 5.24}, "y": {"datum": 0.8}, "text": {"field": "t"}}}
 ]},
{"width": 392, "height": 256, "title": {"text": "(d) Anarchy"},
 "layer": [
  {"data": {"name": "d"}, "mark": {"type": "line"},
   "encoding": {
    "x": {"field": "x", "type": "quantitative", "scale": {"domain": [-0.232, 5.25], "nice": false, "zero": false}, "axis": {"title": "Training Episodes", "values": [0,1,2,3,4,5], "tickCount": 10, "format": "d"}},
    "y": {"field": "y", "type": "quantitative", "scale": {"domain": [0.4, 1.0], "nice": false, "zero": false}, "axis": {"title": "Cleaning Work / Total Work (Anarchy)", "values": [0.4,0.5,0.6,0.7,0.8,0.9,1.0], "tickCount": 10, "format": ".1f", "labelOverlap": false}},
    "color": {"field": "g", "type": "nominal", "scale": {"domain": [1,2,3,4,5], "range": ["#0000ff","#ee82ee","#008000","#ff0000","#ffa500"]}, "legend": {"title": null, "orient": "bottom-left", "labelExpr": "'Agent-' + datum.label"}}
   }},
  {"data": {"values": [{"t": "1e7"}]}, "mark": {"type": "text", "align": "right", "baseline": "top", "dy": 23, "fontSize": 11.5, "color": "#333"},
   "encoding": {"x": {"datum": 5.25}, "y": {"datum": 0.4}, "text": {"field": "t"}}}
 ]}
],
"config": {
 "font": "DejaVu Sans",
 "view": {"stroke": "#333", "strokeWidth": 1},
 "axis": {"labelFont": "DejaVu Sans", "labelFontSize": 11.5, "labelColor": "#333", "labelOverlap": false, "titleFont": "DejaVu Sans", "titleFontSize": 11.5, "titleFontWeight": "normal", "titleColor": "#333", "domain": false, "grid": false, "tickColor": "#333", "tickSize": 3.5, "labelPadding": 3},
 "axisX": {"titlePadding": 4},
 "axisY": {"titlePadding": 8},
 "legend": {"labelFont": "DejaVu Sans", "labelFontSize": 11.5, "labelColor": "#333", "symbolType": "stroke", "symbolSize": 484, "symbolStrokeWidth": 2, "symbolOpacity": 0.75, "strokeColor": "#ccc", "fillColor": "rgba(255,255,255,0.85)", "cornerRadius": 3, "padding": 4, "offset": 5, "rowPadding": -3, "labelOffset": 8},
 "title": {"font": "Liberation Serif", "fontSize": 20, "fontWeight": "bold", "color": "#000", "orient": "bottom", "frame": "bounds", "anchor": "middle", "offset": 26},
 "line": {"strokeWidth": 1.6, "opacity": 0.75, "clip": true}
}
}
